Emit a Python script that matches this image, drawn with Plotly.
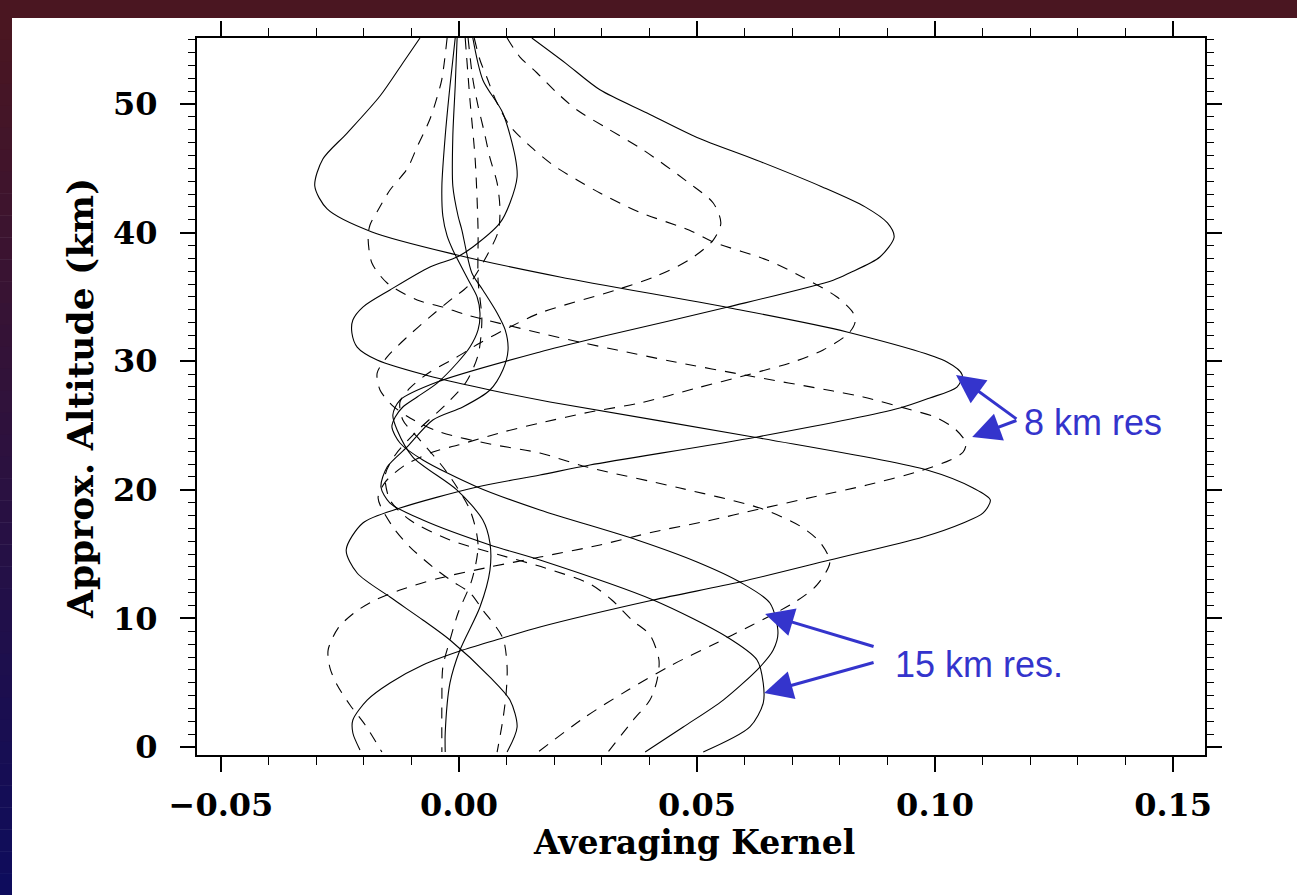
import plotly.graph_objects as go

# Averaging kernels: altitude (km) and kernel value, one pair of lists per kernel.
# Solid kernels
s1_alt = [55.13, 53.2, 51.1, 49.3, 47.4, 45.65, 43.55, 42.0, 40.75, 39.66, 38.1, 36.86, 36.3, 34.21,
          31.88, 30.72, 28.38, 26.98, 25.82, 24.65, 22.55, 19.98, 17.65, 15.86, 13.76, 10.89, 7.54,
          4.98, 1.09, -0.39]
s1_val = [0.0153, 0.0223, 0.0296, 0.0395, 0.0500, 0.0624, 0.0763, 0.0853, 0.0900, 0.0914, 0.0884,
          0.0820, 0.0786, 0.0565, 0.0296, 0.0170, -0.0046, -0.0124, -0.0139, -0.0130, -0.0097,
          -0.0004, 0.0050, 0.0065, 0.0065, 0.0044, 0.0002, -0.0019, -0.0029, -0.0029]

s2_alt = [55.13, 53.19, 50.62, 47.74, 45.72, 43.62, 41.84, 40.05, 38.26, 36.55, 34.14, 32.27, 29.94,
          28.93, 27.99, 27.14, 26.36, 24.11, 21.93, 21.15, 20.22, 18.58, 17.42, 15.32, 13.53, 11.66,
          9.88, 8.32, 5.44, 3.65, 1.56, -0.39]
s2_val = [-0.0082, -0.0118, -0.0166, -0.0235, -0.0286, -0.0303, -0.0277, -0.0183, -0.0004, 0.0212,
          0.0569, 0.0815, 0.1025, 0.1057, 0.1046, 0.0989, 0.0926, 0.0626, 0.0275, 0.0170, 0.0038,
          -0.0124, -0.0202, -0.0237, -0.0214, -0.0145, -0.0076, -0.0019, 0.0065, 0.0107, 0.0122,
          0.0101]

s3_alt = [55.13, 51.87, 49.30, 45.88, 44.32, 42.30, 40.75, 38.88, 38.10, 37.33, 35.54, 34.21, 33.20,
          32.19, 31.10, 30.09, 28.77, 27.76, 26.83, 24.11, 21.54, 20.14, 19.21, 18.20, 17.42, 16.33,
          14.54, 12.83, 11.43, 9.33, 8.48, 7.54, 6.38, 4.98, 3.65, 2.10, 1.09, -0.23]
s3_val = [0.0029, 0.0050, 0.0092, 0.0118, 0.0122, 0.0107, 0.0086, 0.0029, -0.0004, -0.0061, -0.0145,
          -0.0202, -0.0223, -0.0225, -0.0214, -0.0172, -0.0055, 0.0065, 0.0191, 0.0618, 0.0983,
          0.1080, 0.1116, 0.1101, 0.1059, 0.0975, 0.0779, 0.0590, 0.0408, 0.0170, 0.0092, 0.0008,
          -0.0076, -0.0145, -0.0193, -0.0223, -0.0223, -0.0208]

s4_alt = [55.13, 51.40, 47.51, 43.62, 41.29, 39.74, 38.65, 36.08, 34.99, 33.75, 32.43, 31.10, 29.86,
          28.30, 27.22, 26.44, 25.66, 24.88, 23.64, 22.32, 20.22, 18.43, 16.10, 14.39, 12.83, 11.20,
          8.86, 7.54, 6.22, 3.65, 1.56, -0.39]
s4_val = [-0.0008, -0.0019, -0.0029, -0.0036, -0.0034, -0.0025, -0.0013, 0.0023, 0.0038, 0.0044,
          0.0040, 0.0023, -0.0004, -0.0046, -0.0088, -0.0118, -0.0134, -0.0141, -0.0124, -0.0076,
          0.0038, 0.0170, 0.0374, 0.0500, 0.0590, 0.0653, 0.0670, 0.0660, 0.0632, 0.0555, 0.0471,
          0.0391]

s5_alt = [55.13, 51.40, 47.51, 43.62, 41.29, 40.20, 36.86, 35.54, 33.75, 32.43, 30.87, 29.32, 27.76,
          26.44, 25.43, 23.33, 21.77, 20.22, 18.97, 17.65, 15.71, 14.54, 11.43, 8.55, 6.77, 4.98,
          3.42, 1.56, -0.39]
s5_val = [-0.0004, -0.0008, -0.0013, -0.0013, -0.0002, 0.0006, 0.0027, 0.0050, 0.0080, 0.0097,
          0.0103, 0.0092, 0.0065, 0.0008, -0.0055, -0.0109, -0.0151, -0.0164, -0.0145, -0.0076,
          0.0065, 0.0170, 0.0408, 0.0563, 0.0626, 0.0639, 0.0639, 0.0611, 0.0513]

# Dashed kernels
d1_alt = [55.13, 53.65, 52.41, 50.86, 49.53, 48.2, 46.42, 43.86, 42.30, 40.75, 39.42, 37.87, 36.55,
          35.54, 33.75, 32.66, 31.42, 30.25, 29.16, 27.92, 26.83, 25.43, 23.87, 21.54, 18.43, 15.71,
          12.99, 10.42, 8.32, 6.22, 3.65, -0.39]
d1_val = [0.0101, 0.0128, 0.0164, 0.0206, 0.0248, 0.0307, 0.0387, 0.0483, 0.0534, 0.0550, 0.0534,
          0.0483, 0.0410, 0.0330, 0.0170, 0.0107, 0.0044, -0.0008, -0.0061, -0.0103, -0.0124,
          -0.0118, -0.0082, -0.0029, 0.0023, 0.0040, 0.0027, -0.0002, -0.0019, -0.0034, -0.0036,
          -0.0036]

d2_alt = [55.13, 53.42, 52.02, 50.39, 48.29, 46.66, 45.26, 44.09, 43.08, 41.60, 40.20, 39.27, 37.87,
          36.55, 34.99, 33.75, 33.05, 32.19, 30.87, 29.94, 28.93, 27.92, 26.75, 26.05, 25.19, 24.49,
          23.48, 22.94, 21.93, 20.6, 19.36, 17.11, 15.55, 14.00, 12.91, 11.98, 10.65, 8.48, 6.22,
          4.20, 2.10, -0.39]
d2_val = [0.0032, 0.0044, 0.0059, 0.0076, 0.0107, 0.0151, 0.0197, 0.0248, 0.0296, 0.0378, 0.0483,
          0.0534, 0.0647, 0.0721, 0.0794, 0.0828, 0.0832, 0.0819, 0.0765, 0.0702, 0.0605, 0.0500,
          0.0380, 0.0275, 0.0170, 0.0092, -0.0002, -0.0055, -0.0113, -0.0155, -0.0170, -0.0139,
          -0.0103, -0.0055, -0.0015, 0.0023, 0.0050, 0.0092, 0.0101, 0.0099, 0.0092, 0.0080]

d3_alt = [55.13, 51.94, 50.54, 48.83, 46.66, 44.95, 43.31, 41.76, 40.59, 39.66, 37.64, 36.08, 34.76,
          34.21, 33.59, 32.19, 31.42, 30.87, 30.02, 28.85, 27.68, 27.22, 26.28, 25.66, 24.73, 23.64,
          22.94, 22.32, 21.46, 20.37, 19.44, 18.51, 17.57, 16.72, 15.71, 14.77, 14.00, 13.14, 12.21,
          11.43, 10.50, 9.25, 7.54, 6.14, 4.82, 3.27, 1.71, -0.39]
d3_val = [-0.0025, -0.0036, -0.0046, -0.0061, -0.0088, -0.0109, -0.0145, -0.0170, -0.0187, -0.0191,
          -0.0183, -0.0151, -0.0088, -0.0034, 0.0017, 0.0170, 0.0261, 0.0332, 0.0443, 0.0611,
          0.0786, 0.0849, 0.0943, 0.1000, 0.1042, 0.1065, 0.1059, 0.1032, 0.0968, 0.0857, 0.0744,
          0.0632, 0.0521, 0.0408, 0.0296, 0.0170, 0.0065, -0.0040, -0.0124, -0.0176, -0.0218,
          -0.0254, -0.0275, -0.0271, -0.0256, -0.0229, -0.0197, -0.0162]

d4_alt = [55.13, 51.94, 49.84, 47.82, 45.80, 43.86, 41.84, 40.05, 37.64, 35.77, 34.91, 33.44, 31.88,
          30.33, 29.08, 27.76, 26.59, 25.58, 24.49, 23.56, 22.86, 21.77, 20.14, 18.58, 17.19, 15.94,
          14.39, 12.60, 11.28, 9.49, 7.93, 6.38, 4.43, 2.33, -0.39]
d4_val = [0.0019, 0.0029, 0.0040, 0.0053, 0.0065, 0.0080, 0.0086, 0.0082, 0.0050, 0.0017, -0.0013,
          -0.0061, -0.0109, -0.0151, -0.0172, -0.0166, -0.0141, -0.0103, -0.0040, 0.0065, 0.0170,
          0.0269, 0.0464, 0.0632, 0.0716, 0.0758, 0.0779, 0.0752, 0.0706, 0.0616, 0.0532, 0.0447,
          0.0355, 0.0265, 0.0166]

d5_alt = [55.13, 50.31, 45.65, 40.20, 36.31, 33.20, 30.48, 28.38, 26.59, 24.65, 22.71, 21.15, 19.21,
          17.65, 16.10, 14.93, 13.92, 12.68, 11.43, 9.88, 8.71, 6.77, 5.21, 3.65, 2.10, -0.39]
d5_val = [0.0013, 0.0023, 0.0034, 0.0040, 0.0040, 0.0048, 0.0040, 0.0015, -0.0029, -0.0086, -0.0134,
          -0.0155, -0.0145, -0.0103, -0.0019, 0.0086, 0.0181, 0.0275, 0.0321, 0.0363, 0.0401, 0.0420,
          0.0416, 0.0401, 0.0366, 0.0313]

solid_kernels = [(s1_alt, s1_val), (s2_alt, s2_val), (s3_alt, s3_val), (s4_alt, s4_val), (s5_alt, s5_val)]
dashed_kernels = [(d1_alt, d1_val), (d2_alt, d2_val), (d3_alt, d3_val), (d4_alt, d4_val), (d5_alt, d5_val)]

x_ticks = [-0.05, 0.0, 0.05, 0.10, 0.15]
y_ticks = [0, 10, 20, 30, 40, 50]

fig = go.Figure()

for alt, val in solid_kernels:
    fig.add_trace(go.Scatter(x=val, y=alt, mode="lines",
                             line=dict(color="black", width=1.1, shape="spline", smoothing=0.8),
                             showlegend=False, hoverinfo="skip"))
for alt, val in dashed_kernels:
    fig.add_trace(go.Scatter(x=val, y=alt, mode="lines",
                             line=dict(color="black", width=1.1, dash="11px,9px",
                                       shape="spline", smoothing=0.8),
                             showlegend=False, hoverinfo="skip"))

tick_font = dict(family="DejaVu Serif", size=32, color="black", weight="bold")

fig.update_xaxes(
    range=[-0.05504, 0.1567], tickvals=x_ticks, tickformat=".2f",
    showline=True, linecolor="black", linewidth=2, mirror="allticks",
    ticks="outside", ticklen=15, tickwidth=1.5, tickcolor="black",
    minor=dict(dtick=0.01, tick0=0, ticklen=8, tickwidth=1.2, tickcolor="black", ticks="outside"),
    showgrid=False, zeroline=False, tickfont=tick_font, ticklabelstandoff=6,
)
fig.update_yaxes(
    range=[-0.62, 55.13], tickvals=y_ticks,
    showline=True, linecolor="black", linewidth=2, mirror="allticks",
    ticks="outside", ticklen=15, tickwidth=1.5, tickcolor="black",
    minor=dict(dtick=1, tick0=0, ticklen=7, tickwidth=1.2, tickcolor="black", ticks="outside"),
    showgrid=False, zeroline=False, tickfont=tick_font, ticklabelstandoff=16,
)

# Slide frame: dark band along the top and a maroon-to-navy strip down the left edge
def px_x(p):
    return (p - 197) / 1008

def px_y(p):
    return (755 - p) / 717

shapes = [dict(type="rect", xref="paper", yref="paper", x0=px_x(0), x1=px_x(1297),
               y0=px_y(18), y1=px_y(0), fillcolor="#4a1621", line=dict(width=0), layer="below")]
top_rgb = (74, 22, 33)
bot_rgb = (14, 12, 92)
n_bands = 40
for i in range(n_bands):
    t = i / (n_bands - 1)
    r, g, b = (round(top_rgb[k] + (bot_rgb[k] - top_rgb[k]) * t) for k in range(3))
    y_top = 18 + (895 - 18) * i / n_bands
    y_bot = 18 + (895 - 18) * (i + 1) / n_bands
    shapes.append(dict(type="rect", xref="paper", yref="paper", x0=px_x(0), x1=px_x(12),
                       y0=px_y(y_bot + 0.5), y1=px_y(y_top), fillcolor=f"rgb({r},{g},{b})",
                       line=dict(width=0), layer="below"))

blue = "#3434cc"
label_font = dict(family="Liberation Sans", size=36, color=blue)
arrows = [
    # (tip x, tip y, tail x, tail y)
    (0.1044, 28.93, 0.1174, 25.43),
    (0.1078, 24.11, 0.1174, 25.43),
    (0.0643, 10.34, 0.0874, 7.78),
    (0.0641, 4.20, 0.0874, 6.61),
]
annotations = []
for tx, ty, ax, ay in arrows:
    annotations.append(dict(x=tx, y=ty, ax=ax, ay=ay, xref="x", yref="y", axref="x", ayref="y",
                            text="", showarrow=True, arrowhead=2, arrowsize=1.9, arrowwidth=3,
                            arrowcolor=blue, standoff=0, startstandoff=0))
annotations.append(dict(x=0.1183, y=25.2, xref="x", yref="y", text="8 km res", showarrow=False,
                        xanchor="left", yanchor="middle", font=label_font))
annotations.append(dict(x=0.0912, y=6.38, xref="x", yref="y", text="15 km res.", showarrow=False,
                        xanchor="left", yanchor="middle", font=label_font))

# Axis titles
annotations.append(dict(x=px_x(694), y=px_y(842), xref="paper", yref="paper",
                        text="Averaging Kernel", showarrow=False,
                        xanchor="center", yanchor="middle",
                        font=dict(family="DejaVu Serif", size=33, color="black", weight="bold")))
annotations.append(dict(x=px_x(80), y=px_y(399), xref="paper", yref="paper",
                        text="Approx. Altitude (km)", showarrow=False, textangle=-90,
                        xanchor="center", yanchor="middle",
                        font=dict(family="DejaVu Serif", size=36, color="black", weight="bold")))

fig.update_layout(
    width=1297, height=895, autosize=False,
    margin=dict(l=197, r=92, t=38, b=140),
    paper_bgcolor="white", plot_bgcolor="white",
    shapes=shapes, annotations=annotations, showlegend=False,
)

fig.write_html("out.html")
